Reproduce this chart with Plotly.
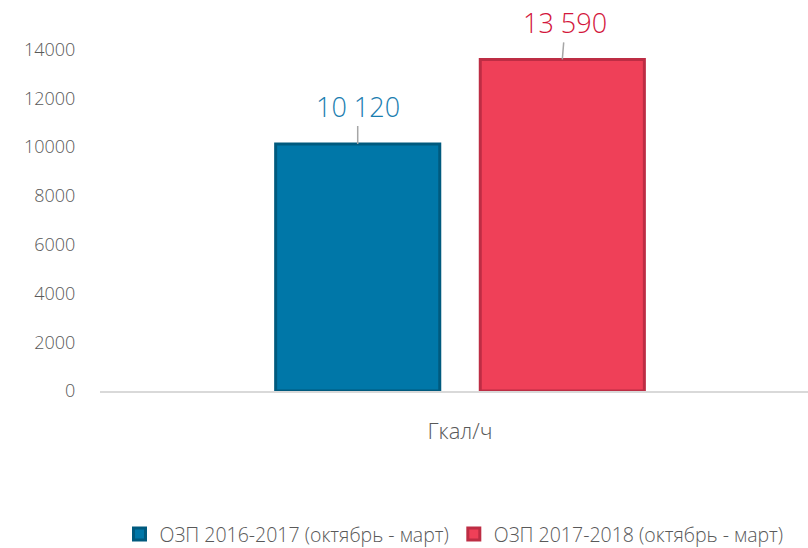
import plotly.graph_objects as go

categories = ["Гкал/ч"]
series_names = ["ОЗП 2016-2017 (октябрь - март)", "ОЗП 2017-2018 (октябрь - март)"]
values_2016 = [10120]
values_2017 = [13590]
value_labels = ["10 120", "13 590"]
y_tickvals = [0, 2000, 4000, 6000, 8000, 10000, 12000, 14000]
y_ticktext = ["0", "2000", "4000", "6000", "8000", "10000", "12000", "14000"]

fills = ["#0077a8", "#ef4058"]
lines = ["#005a7e", "#bd2d44"]
label_colors = ["#1a7db0", "#d3163c"]

BARGAP = 0.422
BARGROUPGAP = 0.198
FONT = "Open Sans"

fig = go.Figure()
for name, vals, fc, lc in zip(series_names, [values_2016, values_2017], fills, lines):
    fig.add_trace(go.Bar(
        x=categories, y=vals, name=name,
        marker=dict(color=fc, line=dict(color=lc, width=3)),
        hoverinfo="skip",
    ))

slot = (1 - BARGAP) / 2
centers = [-slot / 2, slot / 2]
ax_off = [0, 3]
ay_off = [-38, -37]
for i, (vals, lbl, col) in enumerate(zip([values_2016, values_2017], value_labels, label_colors)):
    fig.add_annotation(
        x=centers[i], y=vals[0], xref="x", yref="y",
        text=lbl, showarrow=True, arrowhead=0, arrowwidth=1.5,
        arrowcolor="#a6a6a6", ax=ax_off[i], ay=ay_off[i],
        font=dict(family=FONT, size=27, color=col, weight=300),
    )

fig.update_layout(
    width=808, height=548,
    margin=dict(l=100, r=0, t=25, b=157, autoexpand=False),
    paper_bgcolor="white", plot_bgcolor="white",
    barmode="group", bargap=BARGAP, bargroupgap=BARGROUPGAP,
    font=dict(family=FONT, color="#595959", weight=300),
    showlegend=True,
    legend=dict(
        orientation="h", x=0.5, xanchor="center",
        yref="container", y=0.025, yanchor="middle",
        font=dict(family=FONT, size=19.5, color="#595959", weight=300),
        itemwidth=30,
    ),
)
fig.update_xaxes(
    range=[-0.5085, 0.4915], showline=True, linecolor="#d9d9d9", linewidth=2,
    showgrid=False, zeroline=False, ticks="outside", ticklen=20, tickcolor="rgba(0,0,0,0)",
    tickfont=dict(family=FONT, size=22, color="#595959", weight=300), automargin=False,
)
fig.update_yaxes(
    range=[0, 15000], tickvals=y_tickvals, ticktext=y_ticktext, showgrid=False, zeroline=False,
    showline=False, ticks="outside", ticklen=20, tickcolor="rgba(0,0,0,0)",
    tickfont=dict(family=FONT, size=18, color="#595959", weight=300), automargin=False,
)
fig.write_html("out.html", config={"displayModeBar": False},
               post_script="document.body.style.margin='0';document.body.style.padding='0';")
